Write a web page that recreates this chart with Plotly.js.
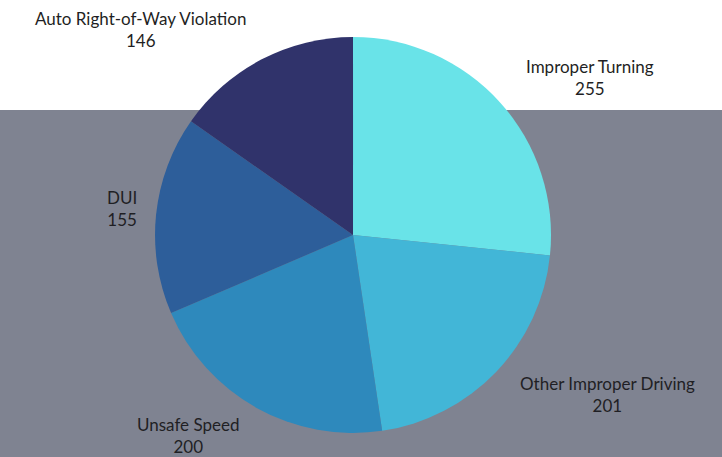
<!DOCTYPE html>
<html><head><meta charset="utf-8">
<script src="https://cdn.plot.ly/plotly-3.0.1.min.js"></script>
<style>html,body{margin:0;padding:0;background:#fff}</style>
</head><body>
<div id="chart" style="width:722px;height:457px"></div>
<script>
var categories = ["Improper Turning", "Other Improper Driving", "Unsafe Speed", "DUI", "Auto Right-of-Way Violation"];
var values = [255, 201, 200, 155, 146];
var colors = ["#69e3e8", "#42b6d7", "#2e89bc", "#2d5e9a", "#30336b"];
// label anchor positions (paper coords)
var labelX = [0.817, 0.842, 0.260, 0.169, 0.194];
var labelY = [0.830, 0.137, 0.047, 0.543, 0.935];

var annotations = categories.map(function(c, i){
  return {text: c + "<br>" + values[i], x: labelX[i], y: labelY[i], xref: "paper", yref: "paper",
    showarrow: false, xanchor: "center", yanchor: "middle",
    font: {family: "Lato, 'Open Sans', sans-serif", size: 17, color: "#1f1f24"}};
});

var trace = {
  type: "pie", labels: categories, values: values, sort: false, direction: "clockwise", rotation: 0,
  marker: {colors: colors, line: {width: 0}}, textinfo: "none", hoverinfo: "label+value",
  domain: {x: [0.2147, 0.7632], y: [0.0525, 0.919]}
};

var layout = {
  width: 722, height: 457, margin: {l: 0, r: 0, t: 0, b: 0},
  paper_bgcolor: "#ffffff", plot_bgcolor: "#ffffff", showlegend: false,
  shapes: [{type: "rect", xref: "paper", yref: "paper", x0: 0, x1: 1, y0: 0, y1: 0.7593,
    fillcolor: "#7f8391", line: {width: 0}, layer: "below"}],
  annotations: annotations
};
Plotly.newPlot("chart", [trace], layout, {displayModeBar: false, staticPlot: true});
</script>
</body></html>
